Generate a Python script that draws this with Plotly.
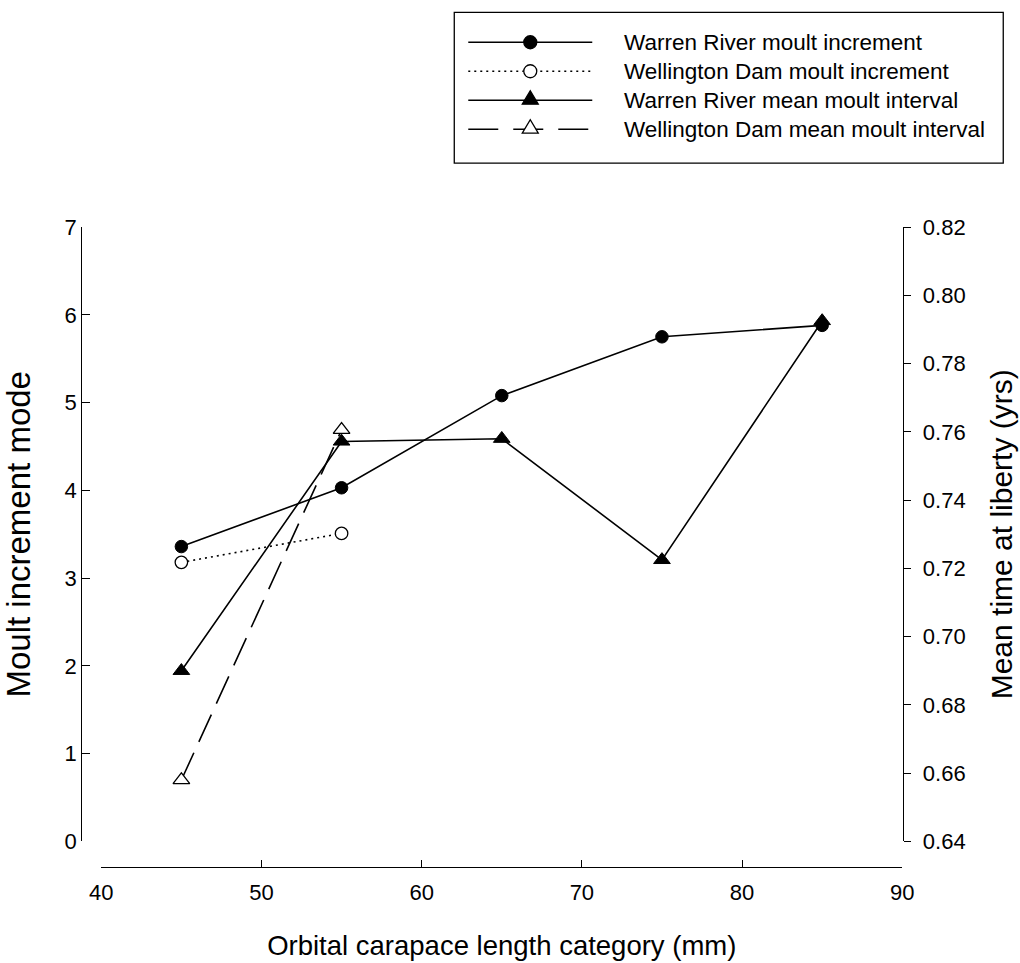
import plotly.graph_objects as go

# ---- data ----
length_category = [45, 55, 65, 75, 85]
warren_increment = [3.36, 4.03, 5.08, 5.75, 5.88]
wellington_category = [45, 55]
wellington_increment = [3.18, 3.51]
warren_interval = [0.690, 0.7572, 0.758, 0.7225, 0.7925]
wellington_interval = [0.658, 0.7606]

x_ticks = [40, 50, 60, 70, 80, 90]
y_ticks = [0, 1, 2, 3, 4, 5, 6, 7]
y2_ticks = [0.64, 0.66, 0.68, 0.70, 0.72, 0.74, 0.76, 0.78, 0.80, 0.82]

series_names = [
    "Warren River moult increment",
    "Wellington Dam moult increment",
    "Warren River mean moult interval",
    "Wellington Dam mean moult interval",
]

W, H = 1020, 963
FONT = "Liberation Sans, Arial, sans-serif"
LW = 1.6

# the page is shown slightly reduced with a small inset; convert target
# picture positions into figure pixels
SX, SY, PAD = 0.9765, 0.975, 12


def px(x):
    return max(0.0, min(1.0, (x / SX - PAD) / W))


def py(y):
    return max(0.0, min(1.0, 1 - (y / SY - PAD) / H))


fig = go.Figure()

fig.add_trace(go.Scatter(
    x=length_category, y=warren_increment, yaxis="y", mode="lines+markers",
    name=series_names[0],
    line=dict(color="black", width=LW),
    marker=dict(symbol="circle", size=12.5, color="black", line=dict(color="black", width=1)),
))
fig.add_trace(go.Scatter(
    x=wellington_category, y=wellington_increment, yaxis="y", mode="lines+markers",
    name=series_names[1],
    line=dict(color="black", width=LW, dash="2px,4px"),
    marker=dict(symbol="circle", size=12.5, color="white", line=dict(color="black", width=1.3)),
))
fig.add_trace(go.Scatter(
    x=length_category, y=warren_interval, yaxis="y2", mode="lines+markers",
    name=series_names[2],
    line=dict(color="black", width=LW),
    marker=dict(symbol="triangle-up", size=14.5, color="black", line=dict(color="black", width=1)),
))
fig.add_trace(go.Scatter(
    x=wellington_category, y=wellington_interval, yaxis="y2", mode="lines+markers",
    name=series_names[3],
    line=dict(color="black", width=LW, dash="30px,12px"),
    marker=dict(symbol="triangle-up", size=14.5, color="white", line=dict(color="black", width=1.3)),
))

# ---- custom legend (layout decoration) ----
shapes = []
annotations = []
box = dict(x0=454, x1=1003, y0=7, y1=163)
shapes.append(dict(type="rect", xref="paper", yref="paper",
                   x0=px(box["x0"]), x1=px(box["x1"]), y0=py(box["y1"]), y1=0.9995,
                   line=dict(color="black", width=1.3), fillcolor="white", layer="above"))
row_y = [42, 71, 100, 129]
dashes = ["solid", "2px,4px", "solid", "30px,15px"]
symbols = ["circle", "circle", "triangle", "triangle"]
fills = ["black", "white", "black", "white"]
for i, name in enumerate(series_names):
    yy = py(row_y[i])
    shapes.append(dict(type="line", xref="paper", yref="paper",
                       x0=px(468), x1=px(592), y0=yy, y1=yy,
                       line=dict(color="black", width=LW, dash=dashes[i]), layer="above"))
    if symbols[i] == "circle":
        shapes.append(dict(type="circle", xref="paper", yref="paper",
                           xsizemode="pixel", ysizemode="pixel",
                           xanchor=px(530), yanchor=yy, x0=-6.5, x1=6.5, y0=-6.5, y1=6.5,
                           fillcolor=fills[i], line=dict(color="black", width=1.3), layer="above"))
    else:
        shapes.append(dict(type="path", xref="paper", yref="paper",
                           xsizemode="pixel", ysizemode="pixel",
                           xanchor=px(530), yanchor=yy,
                           path="M-8,-4 L8,-4 L0,9.5 Z",
                           fillcolor=fills[i], line=dict(color="black", width=1.3), layer="above"))
    annotations.append(dict(xref="paper", yref="paper", x=px(622), y=yy,
                            xanchor="left", yanchor="middle", showarrow=False,
                            text=name, font=dict(family=FONT, size=22.5, color="black")))

fig.update_layout(
    width=W, height=H,
    margin=dict(l=0, r=0, t=0, b=0),
    paper_bgcolor="white", plot_bgcolor="white",
    showlegend=False,
    font=dict(family=FONT, color="black", size=22),
    xaxis=dict(
        domain=[px(101), px(902)], range=[40, 90], anchor="free", position=py(868),
        showline=True, linecolor="black", linewidth=1.4,
        ticks="inside", ticklen=7, tickwidth=1.4, tickcolor="black",
        tickvals=x_ticks, showgrid=False, zeroline=False,
        tickfont=dict(size=22), ticklabelstandoff=5,
        title=dict(text="Orbital carapace length category (mm)", font=dict(size=27.5), standoff=31),
    ),
    yaxis=dict(
        domain=[py(842), py(227)], range=[0, 7], anchor="free", position=px(81), side="left",
        showline=True, linecolor="black", linewidth=1.4,
        ticks="inside", ticklen=8, tickwidth=1.4, tickcolor="black",
        tickvals=y_ticks, showgrid=False, zeroline=False,
        tickfont=dict(size=22),
        title=dict(text="Moult increment mode", font=dict(size=33), standoff=26),
    ),
    yaxis2=dict(
        overlaying="y", side="right", anchor="free", position=px(903), range=[0.64, 0.82],
        showline=True, linecolor="black", linewidth=1.4,
        ticks="outside", ticklen=7, tickwidth=1.4, tickcolor="black",
        tickvals=y2_ticks, tickformat=".2f", showgrid=False, zeroline=False,
        tickfont=dict(size=22), ticklabelstandoff=7,
        title=dict(text="Mean time at liberty (yrs)", font=dict(size=30), standoff=26),
    ),
    shapes=shapes,
    annotations=annotations,
)

fig.write_html(
    "out.html", config={"displayModeBar": False},
    post_script="document.body.style.margin='0px';",
)
